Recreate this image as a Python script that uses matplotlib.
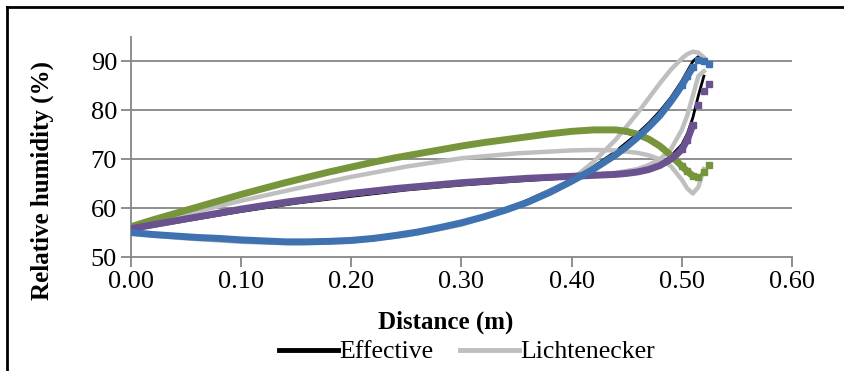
import matplotlib
matplotlib.use("Agg")
import matplotlib.pyplot as plt
from matplotlib.lines import Line2D
import numpy as np

plt.rcParams['font.family'] = ['Liberation Serif', 'DejaVu Serif']

# measured profiles (markers)
x_meas = [0.00, 0.02, 0.04, 0.06, 0.08, 0.10, 0.12, 0.14, 0.16, 0.18, 0.20, 0.22, 0.24,
          0.26, 0.28, 0.30, 0.32, 0.34, 0.36, 0.38, 0.40, 0.42, 0.44, 0.45, 0.46, 0.47,
          0.48, 0.49, 0.495, 0.50, 0.505, 0.51, 0.515, 0.52, 0.525]
green = [56.2, 57.6, 58.9, 60.2, 61.5, 62.8, 64.0, 65.2, 66.3, 67.4, 68.4, 69.4, 70.3,
         71.1, 71.9, 72.7, 73.4, 74.0, 74.6, 75.2, 75.7, 76.0, 76.0, 75.7, 75.1, 74.1,
         72.7, 70.8, 69.7, 68.6, 67.5, 66.6, 66.4, 67.4, 68.9]
purple = [55.8, 56.6, 57.4, 58.2, 59.0, 59.8, 60.5, 61.2, 61.8, 62.4, 63.0, 63.5, 64.0,
          64.4, 64.8, 65.2, 65.5, 65.8, 66.1, 66.3, 66.5, 66.7, 66.9, 67.1, 67.4, 67.9,
          68.7, 70.0, 70.9, 72.0, 74.0, 77.0, 81.0, 84.0, 85.3]
blue = [55.0, 54.6, 54.3, 54.0, 53.8, 53.5, 53.3, 53.1, 53.1, 53.2, 53.4, 53.8, 54.4,
        55.1, 56.0, 57.0, 58.2, 59.6, 61.2, 63.2, 65.5, 68.0, 70.9, 72.6, 74.5, 76.6,
        78.9, 81.8, 83.4, 85.1, 87.0, 88.8, 90.2, 90.0, 89.4]

# simulated profiles (lines)
x_sim = [0.00, 0.05, 0.10, 0.15, 0.20, 0.25, 0.30, 0.35, 0.40, 0.42, 0.44, 0.46, 0.47,
         0.48, 0.49, 0.50, 0.505, 0.51, 0.515, 0.52]
eff_green = [56.0, 59.3, 62.6, 65.6, 68.3, 70.6, 72.6, 74.4, 75.6, 75.9, 75.8, 74.8, 73.8,
             72.3, 70.6, 68.6, 67.3, 66.3, 66.2, 67.2]
eff_purple = [55.5, 57.4, 59.3, 61.0, 62.4, 63.7, 64.7, 65.5, 66.2, 66.5, 66.8, 67.4, 68.0,
              69.0, 70.6, 73.0, 75.2, 78.5, 83.0, 87.0]
eff_blue = [54.8, 53.9, 53.2, 52.9, 53.2, 54.6, 56.9, 60.6, 65.8, 68.5, 71.6, 75.3, 77.4,
            79.8, 82.6, 86.0, 88.0, 90.0, 91.0, 90.2]
lich_green = [56.0, 58.8, 61.5, 64.0, 66.4, 68.5, 70.2, 71.2, 71.8, 71.9, 71.8, 71.3, 70.8,
              70.0, 68.6, 65.8, 64.0, 63.0, 64.3, 68.0]
lich_purple = [55.6, 57.6, 59.6, 61.3, 62.8, 64.0, 65.0, 65.8, 66.5, 66.8, 67.2, 68.0, 68.8,
               70.0, 72.0, 76.0, 79.0, 83.0, 87.0, 88.0]
lich_blue = [54.8, 53.8, 53.1, 52.8, 53.1, 54.4, 56.6, 60.2, 65.8, 69.5, 74.0, 79.5, 82.5,
             85.5, 88.3, 90.6, 91.5, 92.0, 91.8, 90.8]

fig = plt.figure(figsize=(8.45, 3.71), dpi=100)
W, H = 845, 371
ax = fig.add_axes([131 / W, 1 - 257 / H, (792 - 131) / W, (257 - 37) / H])

grid_col = '#868686'
for y in [60, 70, 80, 90]:
    ax.axhline(y, color=grid_col, lw=1.3, zorder=0)

black = '#000000'
grey = '#bfbfbf'
for ys in [eff_green, eff_purple, eff_blue]:
    ax.plot(x_sim, ys, color=black, lw=2.0, zorder=2)
for ys in [lich_green, lich_purple, lich_blue]:
    ax.plot(x_sim, ys, color=grey, lw=3.2, zorder=3)

# dense markers merge into a band; the steep tail shows separate squares
colors = ['#77963c', '#6a5190', '#3e72b0']
n_band = x_meas.index(0.51) + 1
n_tail = x_meas.index(0.50)
for ys, c in zip([green, purple, blue], colors):
    ax.plot(x_meas[:n_band], ys[:n_band], color=c, lw=5, solid_capstyle='butt', zorder=4)
    ax.plot(x_meas[n_tail:], ys[n_tail:], ls='none', marker='s', ms=4.5,
            color=c, mec=c, zorder=4)

ax.set_xlim(0, 0.6)
ax.set_ylim(50, 95)
ax.set_xticks(np.arange(0, 0.61, 0.1))
ax.set_xticklabels(['0.00', '0.10', '0.20', '0.30', '0.40', '0.50', '0.60'])
ax.set_yticks([50, 60, 70, 80, 90])
ax.tick_params(axis='both', labelsize=19, color=grid_col, length=7, width=1.3,
               direction='out', pad=3)
for side in ['top', 'right']:
    ax.spines[side].set_visible(False)
for side in ['left', 'bottom']:
    ax.spines[side].set_color(grid_col)
    ax.spines[side].set_linewidth(1.3)

fig.text(446 / W, 1 - 322 / H, 'Distance (m)', ha='center', va='center',
         fontsize=18, fontweight='bold')
fig.text(42 / W, 1 - 180 / H, 'Relative humidity (%)', ha='center', va='center',
         rotation=90, fontsize=18, fontweight='bold')

handles = [Line2D([], [], color=black, lw=3.5), Line2D([], [], color=grey, lw=3.5)]
fig.legend(handles, ['Effective', 'Lichtenecker'], loc='center',
           bbox_to_anchor=(467 / W, 1 - 352 / H), ncol=2, frameon=False, fontsize=18.5,
           handlelength=2.3, handletextpad=0.05, columnspacing=1.0, borderpad=0)

# outer chart border (top and left edges visible)
fig.add_artist(Line2D([7 / W, 7 / W], [0, 1 - 7 / H], color='black', lw=2,
                      transform=fig.transFigure))
fig.add_artist(Line2D([7 / W, 1], [1 - 7 / H, 1 - 7 / H], color='black', lw=2,
                      transform=fig.transFigure))

fig.savefig('out.png', dpi=100)
